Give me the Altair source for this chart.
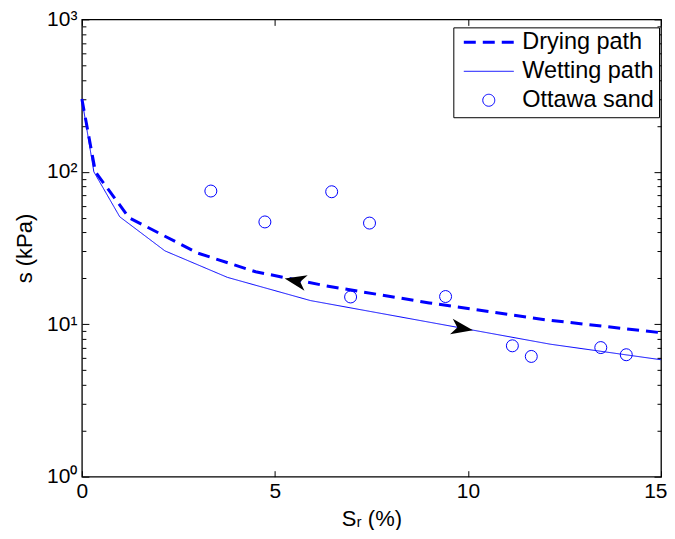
import altair as alt
import pandas as pd

# ---- data ----
series = ["Drying path", "Wetting path", "Ottawa sand"]

drying_sr = [0.0, 0.35, 1.22, 3.0, 4.5, 6.3, 9.0, 12.0, 15.0]
drying_s = [300, 100, 50, 29.3, 22.1, 17.9, 13.8, 10.7, 8.8]

wetting_sr = [0.0, 0.31, 0.98, 2.15, 3.77, 5.92, 12.13, 15.0]
wetting_s = [300, 100, 50.7, 30.3, 20.3, 14.3, 7.4, 5.85]

sand_sr = [3.34, 4.74, 6.47, 7.45, 6.96, 9.42, 11.15, 11.64, 13.44, 14.10]
sand_s = [74.8, 46.9, 74.0, 46.1, 15.1, 15.2, 7.22, 6.15, 7.03, 6.31]

arrow_sr = [5.53, 9.85]
arrow_s = [19.3, 9.4]
arrow_angle = [192, 10]

x_ticks = [0, 5, 10, 15]
y_major = [1, 10, 100, 1000]
y_all = [m * d for d in [1, 10, 100] for m in range(1, 10)] + [1000]

# ---- tables ----
lines_df = pd.concat([
    pd.DataFrame({"x": drying_sr, "y": drying_s, "series": series[0]}),
    pd.DataFrame({"x": wetting_sr, "y": wetting_s, "series": series[1]}),
])
sand_df = pd.DataFrame({"x": sand_sr, "y": sand_s, "series": series[2]})
arrow_df = pd.DataFrame({"x": arrow_sr, "y": arrow_s, "a": arrow_angle})

BLUE = "#0000ff"
FONT = "Liberation Sans"
W, H = 580, 458

xscale = alt.Scale(domain=[0, 15], nice=False)
yscale = alt.Scale(type="log", domain=[1, 1000], nice=False)

circle_path = "M0.24,0A0.24,0.24,0,1,1,-0.24,0A0.24,0.24,0,1,1,0.24,0Z"
arrow_path = "M1,0L-1,-0.72L-0.45,0L-1,0.72Z"

leg = alt.Legend(
    title=None, orient="none", legendX=372, legendY=8, direction="vertical",
    strokeColor="black", fillColor="white", padding=5, cornerRadius=0,
    labelFont=FONT, labelFontSize=23.5, labelColor="black", labelLimit=400,
    symbolSize=2500, clipHeight=20, rowPadding=5, symbolOffset=4, labelOffset=7,
    symbolStrokeColor=BLUE, symbolFillColor="transparent",
)

major_test = "abs(log(datum.value)/LN10 - round(log(datum.value)/LN10)) < 0.0001"
ytick_size = {"condition": {"test": major_test, "value": 7}, "value": 4}

axis_text = dict(labelFont=FONT, titleFont=FONT, labelFontSize=21, titleFontSize=22,
                 labelColor="black", titleColor="black", titleFontWeight="normal")

lines = alt.Chart(lines_df).mark_line(color=BLUE).encode(
    x=alt.X("x:Q", scale=xscale, axis=alt.Axis(
        values=x_ticks, tickSize=0, labelPadding=4, title="Sᵣ (%)", titlePadding=7,
        labelFlush=True, labelFlushOffset=6,
        domain=False, grid=False, **axis_text)),
    y=alt.Y("y:Q", scale=yscale, axis=alt.Axis(
        values=y_major, tickSize=0, labelPadding=5, title="s (kPa)", titlePadding=10,
        labelExpr="'10' + ['⁰','¹','²','³'][round(log(datum.value)/LN10)]",
        labelFlush=False, domain=False, grid=False, **axis_text)),
    strokeDash=alt.StrokeDash("series:N", scale=alt.Scale(domain=series, range=[[12, 7], [1, 0], [1, 0]]), legend=leg),
    strokeWidth=alt.StrokeWidth("series:N", scale=alt.Scale(type="ordinal", domain=series, range=[3, 1, 1]), legend=leg),
    order=alt.Order("x:Q"),
)

points = alt.Chart(sand_df).mark_point(filled=False, color=BLUE, strokeWidth=1, size=2500, opacity=1).encode(
    x=alt.X("x:Q", scale=xscale, axis=alt.Axis(
        orient="top", offset=-H, values=x_ticks, labels=False, tickSize=6,
        title=None, domain=False, grid=False, tickColor="black")),
    y=alt.Y("y:Q", scale=yscale, axis=alt.Axis(
        orient="right", offset=-W, values=y_all, labels=False, tickSize=ytick_size,
        title=None, domain=False, grid=False, tickColor="black")),
    shape=alt.Shape("series:N", scale=alt.Scale(domain=series, range=["stroke", "stroke", circle_path]), legend=leg),
)

arrows = alt.Chart(arrow_df).mark_point(filled=True, color="black", size=480, shape=arrow_path, opacity=1, strokeWidth=0).encode(
    x=alt.X("x:Q", scale=xscale, axis=alt.Axis(
        orient="bottom", offset=-H, values=x_ticks, labels=False, tickSize=6,
        title=None, domain=False, grid=False, tickColor="black")),
    y=alt.Y("y:Q", scale=yscale, axis=alt.Axis(
        orient="left", offset=-W, values=y_all, labels=False, tickSize=ytick_size,
        title=None, domain=False, grid=False, tickColor="black")),
    angle=alt.Angle("a:Q", scale=None),
)

chart = alt.layer(lines, points, arrows).properties(
    width=W, height=H, background="white",
    padding={"left": 5, "top": 0, "right": 0, "bottom": 0},
).configure_view(
    stroke="black", strokeWidth=1.3
).configure_axis(
    tickColor="black", tickWidth=1,
)

chart.save("out.html", embed_options={"renderer": "svg", "actions": False})
